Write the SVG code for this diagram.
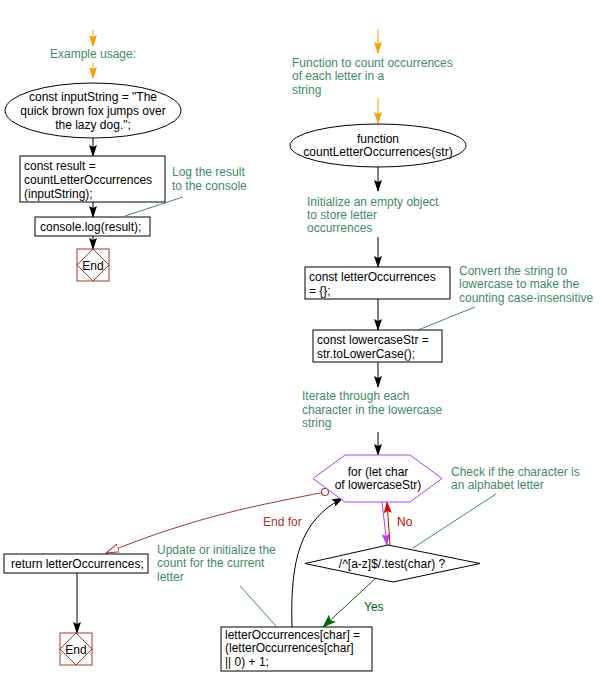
<svg xmlns="http://www.w3.org/2000/svg" width="609" height="686" viewBox="0 0 609 686">
<defs>
<style>
text{font-family:"Liberation Sans",Arial,sans-serif;font-size:12px;fill:#000}
.c{fill:#3f8a68}
.m{text-anchor:middle}
.box{fill:#fff;stroke:#000;stroke-width:1}
.ln{fill:none;stroke:#000;stroke-width:1}
.cm{fill:none;stroke:#3f8a68;stroke-width:1}
.end{fill:#fff;stroke:#a33;stroke-width:1}
</style>
<marker id="ab" markerUnits="userSpaceOnUse" markerWidth="8" markerHeight="12" viewBox="0 0 8 12" refX="4" refY="11" orient="auto-start-reverse"><path d="M0,0 L4,2 L8,0 L4,12 z" transform="rotate(0)" fill="#000"/></marker>
<marker id="ao" markerUnits="userSpaceOnUse" markerWidth="12" markerHeight="8" viewBox="0 0 12 8" refX="11" refY="4" orient="auto"><path d="M0,0 L2,4 L0,8 L12,4 z" fill="#f5a000"/></marker>
<marker id="ak" markerUnits="userSpaceOnUse" markerWidth="12" markerHeight="8" viewBox="0 0 12 8" refX="11" refY="4" orient="auto"><path d="M0,0 L2,4 L0,8 L12,4 z" fill="#000"/></marker>
<marker id="ap" markerUnits="userSpaceOnUse" markerWidth="12" markerHeight="8" viewBox="0 0 12 8" refX="11" refY="4" orient="auto"><path d="M0,0 L2,4 L0,8 L12,4 z" fill="#b040f0"/></marker>
<marker id="ar" markerUnits="userSpaceOnUse" markerWidth="12" markerHeight="8" viewBox="0 0 12 8" refX="11" refY="4" orient="auto"><path d="M0,0 L2,4 L0,8 L12,4 z" fill="#d00"/></marker>
<marker id="ag" markerUnits="userSpaceOnUse" markerWidth="14" markerHeight="10" viewBox="0 0 14 10" refX="13" refY="5" orient="auto"><path d="M0,0 L3,5 L0,10 L14,5 z" fill="#060"/></marker>
<marker id="at" markerUnits="userSpaceOnUse" markerWidth="14" markerHeight="10" viewBox="0 0 14 10" refX="13" refY="5" orient="auto"><path d="M0,1 L13,5 L0,9 z" fill="#fff" stroke="#a33"/></marker>
<marker id="cs" markerUnits="userSpaceOnUse" markerWidth="10" markerHeight="10" viewBox="0 0 10 10" refX="5" refY="5" orient="auto"><circle cx="5" cy="5" r="3.5" fill="#fff" stroke="#a33"/></marker>
</defs>
<rect width="609" height="686" fill="#fff"/>

<g id="connectors">
<line x1="93" y1="30" x2="93" y2="46" stroke="#f5a000" marker-end="url(#ao)"/>
<line x1="93" y1="63" x2="93" y2="78" stroke="#f5a000" marker-end="url(#ao)"/>
<line class="ln" x1="93" y1="138" x2="93" y2="156" marker-end="url(#ak)"/>
<line class="ln" x1="93" y1="202" x2="93" y2="217" marker-end="url(#ak)"/>
<line class="ln" x1="93" y1="236" x2="93" y2="249" marker-end="url(#ak)"/>
<line class="cm" x1="125" y1="216" x2="183" y2="197"/>

<line x1="378" y1="29" x2="378" y2="53" stroke="#f5a000" marker-end="url(#ao)"/>
<line x1="378" y1="98" x2="378" y2="123" stroke="#f5a000" marker-end="url(#ao)"/>
<line class="ln" x1="378" y1="167" x2="378" y2="191" marker-end="url(#ak)"/>
<line class="ln" x1="378" y1="237" x2="378" y2="267" marker-end="url(#ak)"/>
<line class="ln" x1="378" y1="299" x2="378" y2="330" marker-end="url(#ak)"/>
<line class="cm" x1="418" y1="330" x2="475" y2="307"/>
<line class="ln" x1="378" y1="362" x2="378" y2="387" marker-end="url(#ak)"/>
<line class="ln" x1="378" y1="432" x2="378" y2="455" marker-end="url(#ak)"/>

<line x1="382" y1="502" x2="387" y2="545" stroke="#b040f0" marker-end="url(#ap)"/>
<line x1="390" y1="545" x2="387" y2="502" stroke="#d00" marker-end="url(#ar)"/>
<text x="397" y="526" style="fill:#c00">No</text>
<line class="cm" x1="496" y1="494" x2="413" y2="548"/>

<path d="M376,578 L323,627" fill="none" stroke="#060" marker-end="url(#ag)"/>
<text x="364" y="611" style="fill:#060">Yes</text>

<path class="ln" d="M292,627 C290,560 300,520 343,498" marker-end="url(#ak)"/>

<path d="M325,492 C260,505 200,515 106,553" fill="none" stroke="#a33" marker-start="url(#cs)" marker-end="url(#at)"/>
<text x="263" y="526" style="fill:#a33">End for</text>

<line class="ln" x1="77" y1="573" x2="77" y2="633" marker-end="url(#ak)"/>
<line class="cm" x1="240" y1="586" x2="276" y2="626"/>
</g>

<g id="n-example"><text class="c m" x="93" y="58">Example usage:</text></g>

<g id="n-input">
<ellipse class="box" cx="93" cy="110.5" rx="88" ry="27.5"/>
<text class="m" x="93" y="101">const inputString = "The</text>
<text class="m" x="93" y="115">quick brown fox jumps over</text>
<text class="m" x="93" y="129">the lazy dog.";</text>
</g>

<g id="n-result">
<rect class="box" x="20" y="156" width="145" height="46"/>
<text x="24" y="170">const result =</text>
<text x="24" y="184">countLetterOccurrences</text>
<text x="24" y="198">(inputString);</text>
</g>

<g id="n-log-comment">
<text class="c" x="172" y="176">Log the result</text>
<text class="c" x="172" y="190">to the console</text>
</g>

<g id="n-console">
<rect class="box" x="35" y="217" width="115" height="19"/>
<text x="40" y="231">console.log(result);</text>
</g>

<g id="n-end1">
<rect class="end" x="77" y="249" width="32" height="32"/>
<path class="end" d="M93,249 L109,265 L93,281 L77,265 z"/>
<text class="m" x="93" y="270">End</text>
</g>

<g id="n-func-comment">
<text class="c" x="292" y="67">Function to count occurrences</text>
<text class="c" x="292" y="80">of each letter in a</text>
<text class="c" x="292" y="94">string</text>
</g>

<g id="n-func">
<ellipse class="box" cx="378" cy="145.5" rx="88" ry="21.5"/>
<text class="m" x="378" y="143">function</text>
<text class="m" x="378" y="156">countLetterOccurrences(str)</text>
</g>

<g id="n-init-comment">
<text class="c" x="307" y="206">Initialize an empty object</text>
<text class="c" x="307" y="219">to store letter</text>
<text class="c" x="307" y="232">occurrences</text>
</g>

<g id="n-letterOcc">
<rect class="box" x="305" y="267" width="145" height="32"/>
<text x="309" y="281">const letterOccurrences</text>
<text x="309" y="295">= {};</text>
</g>

<g id="n-convert-comment">
<text class="c" x="459" y="275">Convert the string to</text>
<text class="c" x="459" y="288">lowercase to make the</text>
<text class="c" x="459" y="302">counting case-insensitive</text>
</g>

<g id="n-lower">
<rect class="box" x="313" y="330" width="129" height="32"/>
<text x="317" y="344">const lowercaseStr =</text>
<text x="317" y="358">str.toLowerCase();</text>
</g>

<g id="n-iter-comment">
<text class="c" x="302" y="400">Iterate through each</text>
<text class="c" x="302" y="414">character in the lowercase</text>
<text class="c" x="302" y="427">string</text>
</g>

<g id="n-for">
<path d="M345,455 L410,455 L442,478.5 L410,502 L345,502 L313,478.5 z" fill="#fff" stroke="#b040f0"/>
<text class="m" x="378" y="476">for (let char</text>
<text class="m" x="378" y="489">of lowercaseStr)</text>
</g>

<g id="n-check-comment">
<text class="c" x="451" y="476">Check if the character is</text>
<text class="c" x="451" y="489">an alphabet letter</text>
</g>

<g id="n-test">
<path class="box" d="M388,545 L480,563.5 L393,582 L305,563.5 z"/>
<text class="m" x="392" y="568">/^[a-z]$/.test(char) ?</text>
</g>

<g id="n-update-comment">
<text class="c" x="157" y="554">Update or initialize the</text>
<text class="c" x="157" y="567">count for the current</text>
<text class="c" x="157" y="581">letter</text>
</g>

<g id="n-update">
<rect class="box" x="221" y="627" width="151" height="44"/>
<text x="225" y="639">letterOccurrences[char] =</text>
<text x="225" y="652">(letterOccurrences[char]</text>
<text x="225" y="666">|| 0) + 1;</text>
</g>

<g id="n-return">
<rect class="box" x="4" y="554" width="144" height="19"/>
<text x="11" y="568">return letterOccurrences;</text>
</g>

<g id="n-end2">
<rect class="end" x="60" y="633" width="32" height="32"/>
<path class="end" d="M76,633 L92,649 L76,665 L60,649 z"/>
<text class="m" x="76" y="654">End</text>
</g>
</svg>
